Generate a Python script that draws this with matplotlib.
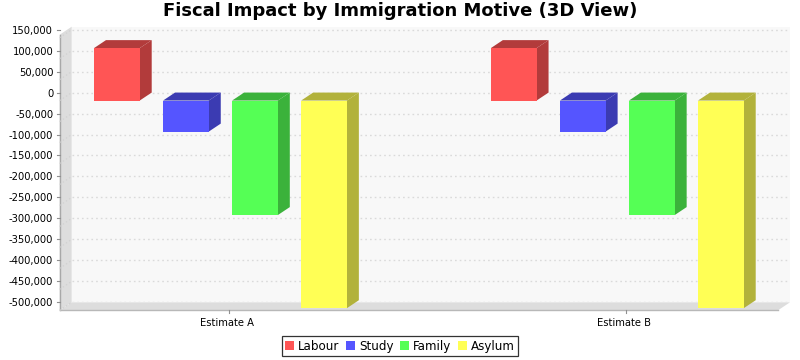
import matplotlib
matplotlib.use("Agg")
import matplotlib.pyplot as plt
from matplotlib.patches import Polygon
from matplotlib import transforms
from matplotlib.lines import Line2D
import matplotlib.ticker as mticker

# ---- data ----
categories = ["Estimate A", "Estimate B"]
series = ["Labour", "Study", "Family", "Asylum"]
labour = [125000, 125000]
study = [-74000, -74000]
family = [-273000, -273000]
asylum = [-495000, -495000]
values = [labour, study, family, asylum]
y_ticks = list(range(-500000, 150001, 50000))

face_colors = ["#FF5555", "#5555FF", "#55FF55", "#FFFF55"]
dark_colors = ["#B23B3B", "#3B3BB2", "#3BB23B", "#B2B23B"]

W, H, DPI = 800, 360, 100
DX, DY = 12, 8  # 3D depth offset in pixels

fig = plt.figure(figsize=(W / DPI, H / DPI), dpi=DPI)
fig.patch.set_facecolor("white")

# back-wall plane of the 3D plot (pixels)
bl, br, bt, bb = 71.7, 790.0, 26.7, 302.3
ax = fig.add_axes([bl / W, 1 - bb / H, (br - bl) / W, (bb - bt) / H])
ax.set_facecolor("#F8F8F8")
ax.set_xlim(-0.405, 1.405)
ax.set_ylim(-500000, 157000)
for s in ax.spines.values():
    s.set_visible(False)

ax.set_yticks(y_ticks)
ax.yaxis.set_major_formatter(mticker.FuncFormatter(lambda v, p: f"{int(v):,}"))
ax.tick_params(axis="y", length=0, pad=13.3, labelsize=7.2, colors="black")
ax.set_axisbelow(True)
ax.grid(axis="y", color="#DADADA", linestyle=(0, (1.2, 2.2)), linewidth=1.0)
ax.grid(axis="x", visible=False)

ax.set_xticks([0, 1])
ax.set_xticklabels(categories)
ax.tick_params(axis="x", length=0, pad=11.0, labelsize=7.2)
shift = transforms.ScaledTranslation(-5 / DPI, 0, fig.dpi_scale_trans)
for lab in ax.get_xticklabels():
    lab.set_transform(lab.get_transform() + shift)

ident = transforms.IdentityTransform()

# --- walls (left wall and floor) ---
x0, y0 = ax.transAxes.transform((0, 0))
x1, y1 = ax.transAxes.transform((1, 1))
wall_col = "#DDDDDD"
left_wall = Polygon([(x0 - DX, y0 - DY), (x0, y0), (x0, y1), (x0 - DX, y1 - DY)],
                    closed=True, facecolor=wall_col, edgecolor="none",
                    transform=ident, clip_on=False, zorder=0.6)
floor = Polygon([(x0 - DX, y0 - DY), (x0, y0), (x1, y0), (x1 - DX, y0 - DY)],
                closed=True, facecolor=wall_col, edgecolor="none",
                transform=ident, clip_on=False, zorder=0.6)
ax.add_patch(left_wall)
ax.add_patch(floor)
ax.add_line(Line2D([x0 - DX, x0 - DX], [y1 - DY, y0 - DY], color="#A8A8A8", lw=1.0,
                   transform=ident, clip_on=False, zorder=0.7))
ax.add_line(Line2D([x0 - DX, x1 - DX], [y0 - DY, y0 - DY], color="#B8B8B8", lw=1.0,
                   transform=ident, clip_on=False, zorder=0.7))

# y tick marks on the front edge and faint diagonals on the wall
for t in y_ticks:
    _, ty = ax.transData.transform((0, t))
    ax.add_line(Line2D([x0 - DX - 3, x0 - DX], [ty, ty], color="#909090", lw=0.8,
                       transform=ident, clip_on=False, zorder=0.8))
    ax.add_line(Line2D([x0 - DX, x0], [ty - DY, ty], color="#D0D0D0", lw=0.8,
                       linestyle=(0, (1.2, 2.2)), transform=ident, clip_on=False, zorder=0.8))
# x tick marks
for j in range(len(categories)):
    tx, _ = ax.transData.transform((j, 0))
    ax.add_line(Line2D([tx - 3, tx - 3], [y0 - DY, y0 - DY - 3], color="#909090", lw=0.8,
                       transform=ident, clip_on=False, zorder=0.8))

# --- 3D bars ---
bar_w = 0.1152
spacing = 0.174
front_tr = transforms.offset_copy(ax.transData, fig=fig, x=-DX, y=-DY, units="dots")
n = len(series)
for i, (name, vals) in enumerate(zip(series, values)):
    xs = [j + (i - (n - 1) / 2) * spacing for j in range(len(categories))]
    for x, v in zip(xs, vals):
        left, right = x - bar_w / 2, x + bar_w / 2
        top = max(v, 0)
        bot = min(v, 0)
        (lx, ty), (rx, by) = ax.transData.transform([(left, top), (right, bot)])
        # top face
        ax.add_patch(Polygon([(lx - DX, ty - DY), (lx, ty), (rx, ty), (rx - DX, ty - DY)],
                             closed=True, facecolor=dark_colors[i], edgecolor="none",
                             transform=ident, clip_on=False, zorder=2))
        # side face
        ax.add_patch(Polygon([(rx - DX, ty - DY), (rx, ty), (rx, by), (rx - DX, by - DY)],
                             closed=True, facecolor=dark_colors[i], edgecolor="none",
                             transform=ident, clip_on=False, zorder=2))
    ax.bar(xs, vals, width=bar_w, color=face_colors[i], edgecolor="none",
           transform=front_tr, clip_on=False, zorder=3, label=name)

fig.text(0.5, 1 - 11.5 / H, "Fiscal Impact by Immigration Motive (3D View)",
         ha="center", va="center", fontsize=13, fontweight="bold")

leg = fig.legend(loc="lower center", bbox_to_anchor=(0.5, 0.0), ncol=4,
                 fontsize=8.6, frameon=True, fancybox=False,
                 handlelength=0.7, handleheight=0.7, handletextpad=0.35,
                 columnspacing=0.6, borderpad=0.3, borderaxespad=0.3)
leg.get_frame().set_edgecolor("black")
leg.get_frame().set_linewidth(0.9)

fig.savefig("out.png", dpi=DPI, facecolor="white")
